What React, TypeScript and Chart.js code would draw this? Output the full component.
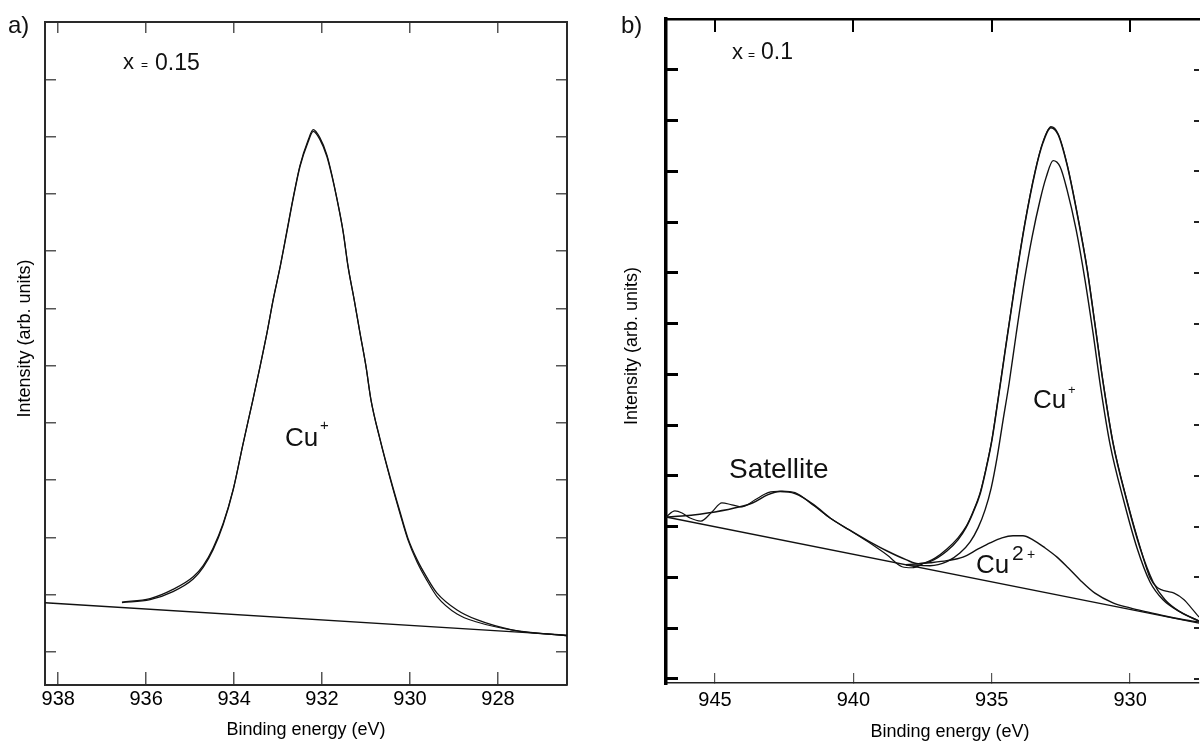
import React, { useEffect, useRef } from 'react';
import { Chart, registerables } from 'chart.js';

Chart.register(...registerables);

const FONT = "'Liberation Sans', Arial, Helvetica, sans-serif";
Chart.defaults.font.family = FONT;

// ---------------- Panel a (x = 0.15) ----------------
const A_X_TICKS = [938, 936, 934, 932, 930, 928];
const A_Y_TICKS = [0, 1, 2, 3, 4, 5, 6, 7, 8, 9, 10];
const A_X_MIN = 926.43;
const A_X_MAX = 938.3;
const A_Y_MIN = -0.58;
const A_Y_MAX = 11.0;

const A_ENERGY = [
  936.55, 935.91, 935.39, 934.93, 934.7, 934.48, 934.25, 934.02, 933.8, 933.57,
  933.41, 933.25, 933.11, 932.95, 932.8, 932.66, 932.5, 932.32, 932.2, 932.05,
  931.89, 931.77, 931.66, 931.52, 931.41, 931.27, 931.14, 931.0, 930.89, 930.68,
  930.45, 930.23, 930.05, 929.84, 929.61, 929.39, 928.93, 928.48, 927.66, 926.43,
];
const A_FIT = [
  0.86, 0.91, 1.05, 1.27, 1.48, 1.78, 2.22, 2.83, 3.62, 4.41,
  4.98, 5.58, 6.15, 6.73, 7.33, 7.9, 8.48, 8.9, 9.09, 8.95,
  8.65, 8.29, 7.9, 7.33, 6.73, 6.15, 5.58, 4.98, 4.41, 3.71,
  3.04, 2.45, 1.99, 1.61, 1.29, 1.03, 0.73, 0.56, 0.38, 0.28,
];
const A_DATA = [
  0.87, 0.93, 1.09, 1.31, 1.51, 1.81, 2.24, 2.84, 3.62, 4.41,
  4.98, 5.58, 6.16, 6.74, 7.35, 7.92, 8.5, 8.93, 9.12, 8.98,
  8.68, 8.31, 7.91, 7.34, 6.74, 6.15, 5.58, 4.98, 4.41, 3.7,
  3.02, 2.42, 1.96, 1.57, 1.24, 0.97, 0.66, 0.52, 0.38, 0.28,
];
const A_BASE_ENERGY = [938.3, 926.43];
const A_BASE = [0.857, 0.29];

// ---------------- Panel b (x = 0.1) ----------------
const B_X_TICKS = [945, 940, 935, 930];
const B_Y_TICKS = [0, 1, 2, 3, 4, 5, 6, 7, 8, 9, 10, 11, 12];
const B_X_MIN = 927.51;
const B_X_MAX = 946.77;
const B_Y_MIN = -0.08;
const B_Y_MAX = 13.0;

const B_ENV_ENERGY = [
  946.77, 946.19, 945.0, 944.1, 943.63, 943.08, 942.65, 942.11, 941.42, 940.84,
  940.16, 939.47, 938.78, 938.1, 937.66, 937.23, 936.62, 936.22, 935.93, 935.68,
  935.42, 935.21, 934.99, 934.77, 934.52, 934.16, 933.8, 933.43, 933.15, 932.86,
  932.6, 932.28, 931.92, 931.55, 931.27, 930.98, 930.62, 930.11, 929.64, 929.17,
  928.74, 928.19, 927.51,
];
const B_ENV = [
  3.19, 3.21, 3.29, 3.39, 3.47, 3.63, 3.69, 3.65, 3.43, 3.17,
  2.94, 2.72, 2.52, 2.35, 2.27, 2.31, 2.52, 2.74, 2.98, 3.27,
  3.64, 4.12, 4.71, 5.5, 6.44, 7.76, 8.97, 9.99, 10.56, 10.86,
  10.72, 10.13, 9.18, 8.06, 6.98, 5.85, 4.65, 3.49, 2.58, 1.91,
  1.56, 1.32, 1.14,
];

const B_DATA_ENERGY = [
  946.77, 946.45, 946.19, 945.9, 945.51, 945.11, 944.75, 944.39, 944.02, 943.55,
  943.08, 942.58, 942.11, 941.42, 940.84, 940.16, 939.47, 938.78, 938.24, 937.88,
  937.41, 937.05, 936.62, 936.22, 935.93, 935.68, 935.42, 935.21, 934.99, 934.77,
  934.52, 934.16, 933.8, 933.43, 933.15, 932.86, 932.6, 932.28, 931.92, 931.55,
  931.27, 930.98, 930.62, 930.11, 929.64, 929.28, 928.99, 928.7, 928.41, 928.05,
  927.76, 927.51,
];
const B_DATA = [
  3.19, 3.31, 3.27, 3.17, 3.11, 3.29, 3.47, 3.43, 3.39, 3.53,
  3.67, 3.7, 3.67, 3.41, 3.17, 2.94, 2.7, 2.44, 2.21, 2.19,
  2.29, 2.38, 2.56, 2.78, 3.0, 3.29, 3.67, 4.14, 4.73, 5.52,
  6.46, 7.78, 8.99, 10.01, 10.58, 10.88, 10.74, 10.15, 9.2, 8.08,
  7.0, 5.87, 4.67, 3.51, 2.6, 1.99, 1.79, 1.73, 1.69, 1.56,
  1.38, 1.22,
];

const B_CU1_ENERGY = [
  938.1, 937.23, 936.62, 936.15, 935.78, 935.49, 935.24, 935.02, 934.81, 934.59,
  934.37, 934.12, 933.83, 933.54, 933.25, 933.04, 932.78, 932.53, 932.28, 931.95,
  931.63, 931.34, 931.05, 930.72, 930.22, 929.75, 929.28, 928.81, 928.19, 927.51,
];
const B_CU1 = [
  2.25, 2.23, 2.31, 2.48, 2.7, 2.98, 3.33, 3.76, 4.35, 5.1,
  5.83, 6.78, 7.82, 8.71, 9.44, 9.87, 10.21, 10.09, 9.64, 8.85,
  7.86, 6.82, 5.69, 4.61, 3.49, 2.58, 1.91, 1.56, 1.32, 1.14,
];

const B_CU2_ENERGY = [
  938.1, 937.23, 936.62, 936.04, 935.49, 935.06, 934.63, 934.23, 933.87, 933.51,
  933.07, 932.64, 932.24, 931.81, 931.27, 930.62, 930.0, 929.39, 928.74, 928.19, 927.51,
];
const B_CU2 = [
  2.25, 2.29, 2.33, 2.4, 2.56, 2.68, 2.78, 2.82, 2.82, 2.74,
  2.58, 2.4, 2.19, 1.95, 1.69, 1.5, 1.4, 1.32, 1.24, 1.18, 1.12,
];

const B_BASE_ENERGY = [946.77, 927.51];
const B_BASE = [3.19, 1.1];

// ---------------- helpers ----------------
function series(label: string, xs: number[], ys: number[], width = 1.3, color = '#111') {
  return {
    label,
    data: xs.map((x, i) => ({ x, y: ys[i] })),
    borderColor: color,
    borderWidth: width,
    pointRadius: 0,
    pointHoverRadius: 0,
    fill: false,
    cubicInterpolationMode: 'monotone' as const,
  };
}

function put(ctx: CanvasRenderingContext2D, text: string, x: number, y: number, size: number) {
  ctx.font = `${size}px ${FONT}`;
  ctx.fillText(text, x, y);
}

function axis(opts: any) {
  const {
    position, min, max, reverse = false, ticks, size, tickLength, tickColor, tickWidth,
    borderColor, borderWidth, borderDisplay = true, labels = false, title = null, labelPadding = 16,
  } = opts;
  const horizontal = position === 'top' || position === 'bottom';
  return {
    type: 'linear',
    position,
    min,
    max,
    reverse,
    afterBuildTicks: (s: any) => {
      s.ticks = ticks.map((v: number) => ({ value: v }));
    },
    afterFit: (s: any) => {
      if (horizontal) s.height = size;
      else s.width = size;
    },
    grid: {
      display: true,
      drawOnChartArea: false,
      drawTicks: true,
      tickLength,
      color: tickColor,
      lineWidth: tickWidth,
    },
    border: { display: borderDisplay, color: borderColor, width: borderWidth },
    ticks: {
      display: labels,
      padding: labelPadding,
      color: '#000',
      font: { family: FONT, size: 20 },
      maxRotation: 0,
      autoSkip: false,
    },
    title: title
      ? {
          display: true,
          text: title.text,
          color: '#000',
          font: { family: FONT, size: 18 },
          padding: title.padding,
        }
      : { display: false },
  };
}

function configA(): any {
  return {
    type: 'line',
    data: {
      datasets: [
        series('Baseline', A_BASE_ENERGY, A_BASE, 1.3),
        series('Data', A_ENERGY, A_DATA, 1.2),
        series('Fit', A_ENERGY, A_FIT, 1.3),
      ],
    },
    options: {
      animation: false,
      responsive: false,
      events: [],
      layout: { padding: { left: 0, top: 22, right: 33, bottom: 0 } },
      plugins: { legend: { display: false }, tooltip: { enabled: false } },
      scales: {
        x: axis({
          position: 'bottom', min: A_X_MIN, max: A_X_MAX, reverse: true, ticks: A_X_TICKS, size: 58,
          tickLength: -13, tickColor: '#555', tickWidth: 1.5, borderColor: '#2a2a2a', borderWidth: 2,
          labels: true, labelPadding: 15,
          title: { text: 'Binding energy (eV)', padding: { top: 0, bottom: 2 } },
        }),
        x2: axis({
          position: 'top', min: A_X_MIN, max: A_X_MAX, reverse: true, ticks: A_X_TICKS, size: 0,
          tickLength: -11, tickColor: '#555', tickWidth: 1.5, borderColor: '#2a2a2a', borderWidth: 2,
        }),
        y: axis({
          position: 'left', min: A_Y_MIN, max: A_Y_MAX, ticks: A_Y_TICKS, size: 45,
          tickLength: -11, tickColor: '#555', tickWidth: 1.5, borderColor: '#2a2a2a', borderWidth: 2,
          title: { text: '      Intensity (arb. units)', padding: { top: 14, bottom: 0 } },
        }),
        y2: axis({
          position: 'right', min: A_Y_MIN, max: A_Y_MAX, ticks: A_Y_TICKS, size: 0,
          tickLength: -11, tickColor: '#555', tickWidth: 1.5, borderColor: '#2a2a2a', borderWidth: 2,
        }),
      },
    },
    plugins: [
      {
        id: 'labelsA',
        afterDraw(chart: any) {
          const c = chart.ctx as CanvasRenderingContext2D;
          c.save();
          c.fillStyle = '#111';
          c.textAlign = 'left';
          c.textBaseline = 'alphabetic';
          put(c, 'a)', 8, 33, 24);
          put(c, 'x', 123, 69, 22);
          put(c, '=', 141, 69, 12);
          put(c, '0.15', 155, 70, 23);
          put(c, 'Cu', 285, 446, 26);
          put(c, '+', 320, 430, 15);
          c.restore();
        },
      },
    ],
  };
}

function configB(): any {
  return {
    type: 'line',
    data: {
      datasets: [
        series('Baseline', B_BASE_ENERGY, B_BASE, 1.3),
        series('Cu2+', B_CU2_ENERGY, B_CU2, 1.4),
        series('Cu+', B_CU1_ENERGY, B_CU1, 1.4),
        series('Data', B_DATA_ENERGY, B_DATA, 1.2),
        series('Fit', B_ENV_ENERGY, B_ENV, 1.5),
      ],
    },
    options: {
      animation: false,
      responsive: false,
      events: [],
      layout: { padding: { left: 0, top: 19, right: 1, bottom: 0 } },
      plugins: { legend: { display: false }, tooltip: { enabled: false } },
      scales: {
        x: axis({
          position: 'bottom', min: B_X_MIN, max: B_X_MAX, reverse: true, ticks: B_X_TICKS, size: 60,
          tickLength: -10, tickColor: '#555', tickWidth: 1.2, borderColor: '#222', borderWidth: 1.5,
          labels: true, labelPadding: 15,
          title: { text: '       Binding energy (eV)', padding: { top: 0, bottom: 0 } },
        }),
        x2: axis({
          position: 'top', min: B_X_MIN, max: B_X_MAX, reverse: true, ticks: B_X_TICKS, size: 0,
          tickLength: -13, tickColor: '#000', tickWidth: 2, borderColor: '#000', borderWidth: 2.5,
        }),
        y: axis({
          position: 'left', min: B_Y_MIN, max: B_Y_MAX, ticks: B_Y_TICKS, size: 66,
          tickLength: -12, tickColor: '#000', tickWidth: 3, borderColor: '#000', borderWidth: 3.5,
          title: { text: '  Intensity (arb. units)', padding: { top: 21, bottom: 0 } },
        }),
        y2: axis({
          position: 'right', min: B_Y_MIN, max: B_Y_MAX, ticks: B_Y_TICKS, size: 0,
          tickLength: -5, tickColor: '#222', tickWidth: 2, borderColor: '#222', borderWidth: 1,
          borderDisplay: false,
        }),
      },
    },
    plugins: [
      {
        id: 'labelsB',
        afterDraw(chart: any) {
          const c = chart.ctx as CanvasRenderingContext2D;
          c.save();
          c.fillStyle = '#111';
          c.textAlign = 'left';
          c.textBaseline = 'alphabetic';
          put(c, 'b)', 21, 33, 24);
          put(c, 'x', 132, 59, 22);
          put(c, '=', 148, 59, 12);
          put(c, '0.1', 161, 59, 23);
          put(c, 'Satellite', 129, 478, 28);
          put(c, 'Cu', 433, 408, 26);
          put(c, '+', 468, 394, 13);
          put(c, 'Cu', 376, 573, 26);
          put(c, '2', 412, 560, 21);
          put(c, '+', 427, 559, 14);
          c.restore();
        },
      },
    ],
  };
}

export default function App() {
  const aRef = useRef<HTMLCanvasElement>(null);
  const bRef = useRef<HTMLCanvasElement>(null);

  useEffect(() => {
    const ca = new Chart(aRef.current as HTMLCanvasElement, configA());
    const cb = new Chart(bRef.current as HTMLCanvasElement, configB());
    return () => {
      ca.destroy();
      cb.destroy();
    };
  }, []);

  return (
    <div
      style={{
        position: 'fixed',
        left: 0,
        top: 0,
        width: 1200,
        height: 743,
        background: '#fff',
        overflow: 'hidden',
      }}
    >
      <canvas
        ref={aRef}
        width={600}
        height={743}
        style={{ position: 'absolute', left: 0, top: 0, width: 600, height: 743 }}
      />
      <canvas
        ref={bRef}
        width={600}
        height={743}
        style={{ position: 'absolute', left: 600, top: 0, width: 600, height: 743 }}
      />
    </div>
  );
}
